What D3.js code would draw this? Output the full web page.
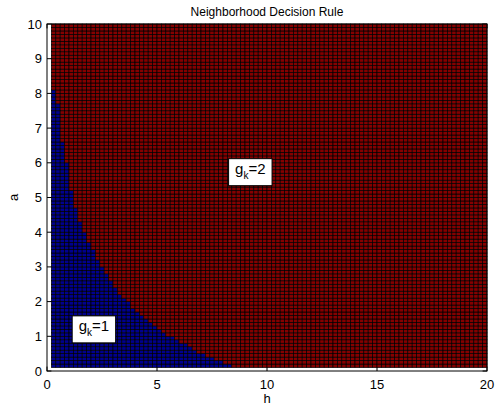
<!DOCTYPE html>
<html>
<head>
<meta charset="utf-8">
<script src="https://cdn.jsdelivr.net/npm/d3@7"></script>
<style>
  body { margin: 0; background: #fff; }
  text { font-family: "Liberation Sans", Arial, sans-serif; fill: #000; }
</style>
</head>
<body>
<svg id="chart" width="504" height="410"></svg>
<script>
const title = "Neighborhood Decision Rule"
const xLabel = "h"
const yLabel = "a"
const xTicks = [0, 5, 10, 15, 20]
const yTicks = [0, 1, 2, 3, 4, 5, 6, 7, 8, 9, 10]

// mesh: 100 x 100 points, h from 0.2 to 20, a from 0.1 to 10 -> 99 x 99 cells
const hStep = 0.2, aStep = 0.1, nCells = 99

// top of the g_k = 1 region in each h column (columns start at h = 0.2)
const blueTop = [8.1, 7.7, 6.6, 6.0, 5.2, 4.7, 4.3, 4.0, 3.7, 3.5,
                 3.2, 3.0, 2.8, 2.6, 2.4, 2.2, 2.1, 2.0, 1.8, 1.7,
                 1.6, 1.5, 1.4, 1.3, 1.2, 1.1, 1.0, 1.0, 0.9, 0.8,
                 0.8, 0.7, 0.6, 0.5, 0.5, 0.4, 0.4, 0.3, 0.3, 0.2, 0.2]

// text annotations (left edge of text, vertical middle)
const labels = [
  { k: "1", h: 1.44, a: 1.2 },
  { k: "2", h: 8.55, a: 5.73 }
]

const classColor = { 1: "#00008f", 2: "#850000" }

const svg = d3.select("#chart")
const margin = { top: 24, right: 17, bottom: 39, left: 47 }
const width = 504, height = 410

const x = d3.scaleLinear([0, 20], [margin.left, width - margin.right])
const y = d3.scaleLinear([0, 10], [height - margin.bottom, margin.top])

// build the cell table
let cells = []
for (let i = 0; i < nCells; i++) {
  for (let j = 0; j < nCells; j++) {
    const h0 = +(hStep * (i + 1)).toFixed(2)
    const a0 = +(aStep * (j + 1)).toFixed(2)
    const top = +(a0 + aStep).toFixed(2)
    const cls = (i < blueTop.length && top <= blueTop[i] + 1e-6) ? 1 : 2
    cells.push({ h0, a0, cls })
  }
}

// ticks (drawn under the cells, inward)
const tickLen = 4.4
const axes = svg.append("g").attr("stroke", "#000").attr("stroke-width", 1)
xTicks.forEach(t => {
  axes.append("line").attr("x1", x(t)).attr("x2", x(t))
    .attr("y1", y(0)).attr("y2", y(0) - tickLen)
  axes.append("line").attr("x1", x(t)).attr("x2", x(t))
    .attr("y1", y(10)).attr("y2", y(10) + tickLen)
})
yTicks.forEach(t => {
  axes.append("line").attr("x1", x(0)).attr("x2", x(0) + tickLen)
    .attr("y1", y(t)).attr("y2", y(t))
  axes.append("line").attr("x1", x(20)).attr("x2", x(20) - tickLen)
    .attr("y1", y(t)).attr("y2", y(t))
})

svg.append("g")
  .selectAll("rect")
  .data(cells)
  .enter()
  .append("rect")
  .attr("x", d => x(d.h0))
  .attr("y", d => y(d.a0 + aStep))
  .attr("width", d => x(d.h0 + hStep) - x(d.h0))
  .attr("height", d => y(d.a0) - y(d.a0 + aStep))
  .attr("fill", d => classColor[d.cls])
  .attr("stroke", "#000")
  .attr("stroke-width", 0.7)

// axis box
svg.append("rect")
  .attr("x", x(0)).attr("y", y(10))
  .attr("width", x(20) - x(0)).attr("height", y(0) - y(10))
  .attr("fill", "none").attr("stroke", "#000").attr("stroke-width", 1)

// tick labels
svg.append("g").selectAll("text").data(xTicks).enter().append("text")
  .attr("x", d => x(d)).attr("y", y(0) + 18)
  .attr("text-anchor", "middle").attr("font-size", 13)
  .text(d => d)

svg.append("g").selectAll("text").data(yTicks).enter().append("text")
  .attr("x", x(0) - 5).attr("y", d => y(d) + 4.5)
  .attr("text-anchor", "end").attr("font-size", 13)
  .text(d => d)

// titles
svg.append("text").attr("x", x(10)).attr("y", 16)
  .attr("text-anchor", "middle").attr("font-size", 12).text(title)
svg.append("text").attr("x", x(10)).attr("y", 403)
  .attr("text-anchor", "middle").attr("font-size", 13).text(xLabel)
svg.append("text")
  .attr("transform", `translate(18,${y(5)}) rotate(-90)`)
  .attr("text-anchor", "middle").attr("font-size", 13).text(yLabel)

// annotation boxes
labels.forEach(l => {
  const g = svg.append("g")
  const t = g.append("text")
    .attr("x", x(l.h)).attr("y", y(l.a) + 2)
    .attr("font-size", 15)
  t.append("tspan").text("g")
  t.append("tspan").attr("font-size", 10).attr("dy", 5).text("k")
  t.append("tspan").attr("dy", -5).text("=" + l.k)
  const bb = t.node().getBBox()
  g.insert("rect", "text")
    .attr("x", x(l.h) - 6.5).attr("y", y(l.a) - 13.5)
    .attr("width", bb.width + 13).attr("height", 27)
    .attr("fill", "#fff").attr("stroke", "#000").attr("stroke-width", 1)
})
</script>
</body>
</html>
